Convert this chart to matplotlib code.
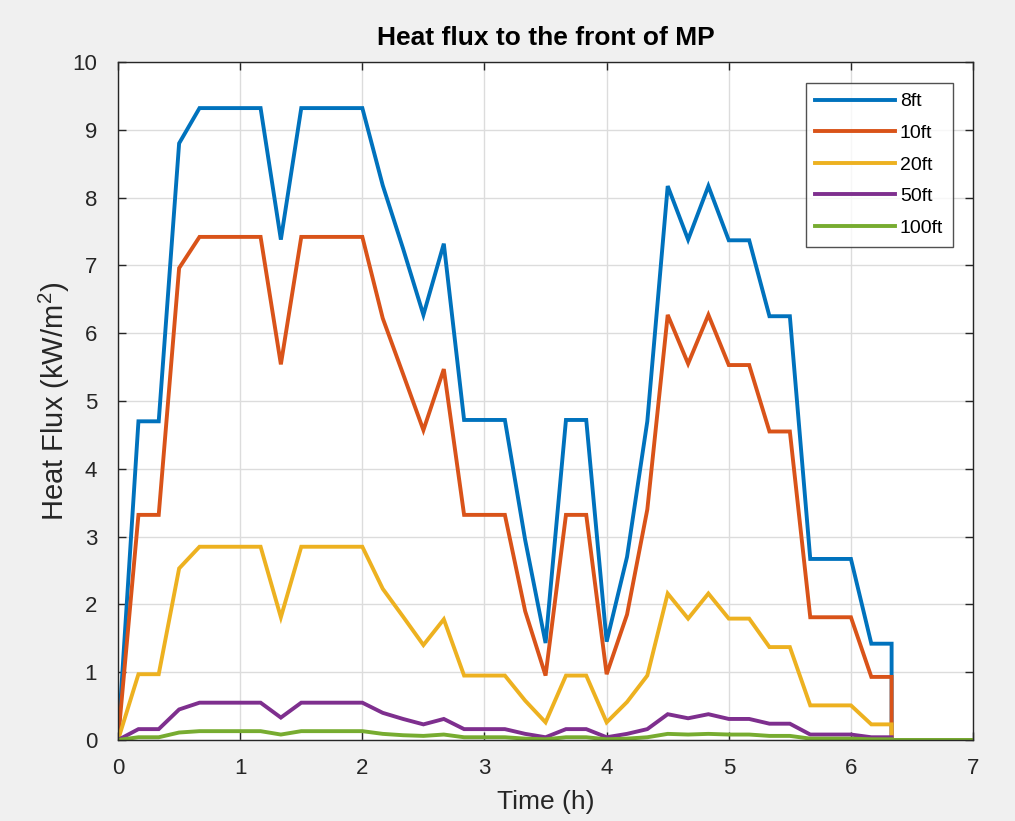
import matplotlib
matplotlib.use("Agg")
import matplotlib.pyplot as plt
from matplotlib import font_manager

# ---- data ----
time_h = [0.0, 0.167, 0.333, 0.5, 0.667, 0.833, 1.0, 1.167, 1.333, 1.5, 1.667, 1.833,
          2.0, 2.167, 2.333, 2.5, 2.667, 2.833, 3.0, 3.167, 3.333, 3.5, 3.667, 3.833,
          4.0, 4.167, 4.333, 4.5, 4.667, 4.833, 5.0, 5.167, 5.333, 5.5, 5.667, 5.833,
          6.0, 6.167, 6.333, 6.333, 7.0]

flux_8ft = [0.0, 4.70, 4.70, 8.80, 9.32, 9.32, 9.32, 9.32, 7.38, 9.32, 9.32, 9.32,
            9.32, 8.18, 7.25, 6.27, 7.32, 4.72, 4.72, 4.72, 2.95, 1.43, 4.72, 4.72,
            1.45, 2.70, 4.70, 8.17, 7.38, 8.17, 7.37, 7.37, 6.25, 6.25, 2.67, 2.67,
            2.67, 1.42, 1.42, 0.0, 0.0]

flux_10ft = [0.0, 3.32, 3.32, 6.96, 7.42, 7.42, 7.42, 7.42, 5.54, 7.42, 7.42, 7.42,
             7.42, 6.22, 5.40, 4.57, 5.47, 3.32, 3.32, 3.32, 1.90, 0.95, 3.32, 3.32,
             0.97, 1.85, 3.40, 6.27, 5.55, 6.27, 5.53, 5.53, 4.55, 4.55, 1.81, 1.81,
             1.81, 0.93, 0.93, 0.0, 0.0]

flux_20ft = [0.0, 0.97, 0.97, 2.53, 2.85, 2.85, 2.85, 2.85, 1.81, 2.85, 2.85, 2.85,
             2.85, 2.23, 1.82, 1.40, 1.78, 0.95, 0.95, 0.95, 0.58, 0.26, 0.95, 0.95,
             0.26, 0.56, 0.95, 2.16, 1.79, 2.16, 1.79, 1.79, 1.37, 1.37, 0.51, 0.51,
             0.51, 0.23, 0.23, 0.0, 0.0]

flux_50ft = [0.0, 0.16, 0.16, 0.45, 0.55, 0.55, 0.55, 0.55, 0.33, 0.55, 0.55, 0.55,
             0.55, 0.40, 0.31, 0.23, 0.31, 0.16, 0.16, 0.16, 0.09, 0.04, 0.16, 0.16,
             0.04, 0.09, 0.16, 0.38, 0.32, 0.38, 0.31, 0.31, 0.24, 0.24, 0.08, 0.08,
             0.08, 0.04, 0.04, 0.0, 0.0]

flux_100ft = [0.0, 0.04, 0.04, 0.11, 0.13, 0.13, 0.13, 0.13, 0.08, 0.13, 0.13, 0.13,
              0.13, 0.09, 0.07, 0.06, 0.08, 0.04, 0.04, 0.04, 0.02, 0.01, 0.04, 0.04,
              0.01, 0.02, 0.04, 0.09, 0.08, 0.09, 0.08, 0.08, 0.06, 0.06, 0.02, 0.02,
              0.02, 0.01, 0.01, 0.0, 0.0]

series_labels = ["8ft", "10ft", "20ft", "50ft", "100ft"]
x_ticks = [0, 1, 2, 3, 4, 5, 6, 7]
y_ticks = [0, 1, 2, 3, 4, 5, 6, 7, 8, 9, 10]

# ---- style ----
installed = {f.name for f in font_manager.fontManager.ttflist}
fam = "Liberation Sans Narrow" if "Liberation Sans Narrow" in installed else "Liberation Sans"
plt.rcParams['font.family'] = [fam, 'DejaVu Sans']
plt.rcParams['mathtext.fontset'] = 'custom'
plt.rcParams['mathtext.rm'] = fam

colors = ["#0072BD", "#D95319", "#EDB120", "#7E2F8E", "#77AC30"]

fig = plt.figure(figsize=(10.15, 8.21), dpi=100, facecolor="#f0f0f0")
ax = fig.add_axes([0.1163, 0.0987, 0.8424, 0.8258])
ax.set_facecolor("white")

for ys, lab, c in zip([flux_8ft, flux_10ft, flux_20ft, flux_50ft, flux_100ft], series_labels, colors):
    ax.plot(time_h, ys, color=c, lw=2.8, label=lab, solid_joinstyle="miter")

ax.set_xlim(0, 7)
ax.set_ylim(0, 10)
ax.set_xticks(x_ticks)
ax.set_yticks(y_ticks)
ax.grid(True, color="#dcdcdc", lw=1.0)
ax.set_axisbelow(True)
ax.tick_params(direction="in", length=6, width=1, colors="#262626", labelsize=16,
               top=True, right=True)
ax.tick_params(axis="x", pad=13)
ax.tick_params(axis="y", pad=15)
for s in ax.spines.values():
    s.set_color("#262626")
    s.set_linewidth(1.0)

ax.set_title("Heat flux to the front of MP", fontsize=19, fontweight="bold", color="#000000", pad=12)
ax.set_xlabel("Time (h)", fontsize=19, color="#262626", labelpad=8)
ax.set_ylabel("Heat Flux (kW/m$^2$)", fontsize=21, color="#262626", labelpad=0)

leg = ax.legend(loc="upper right", fontsize=14, frameon=True, fancybox=False,
                edgecolor="#262626", handlelength=4.1, handletextpad=0.25,
                borderpad=0.5, labelspacing=0.72, borderaxespad=0.0,
                bbox_to_anchor=(0.9766, 0.969))
leg.get_frame().set_linewidth(1.0)

fig.savefig("out.png", dpi=100, facecolor=fig.get_facecolor())
